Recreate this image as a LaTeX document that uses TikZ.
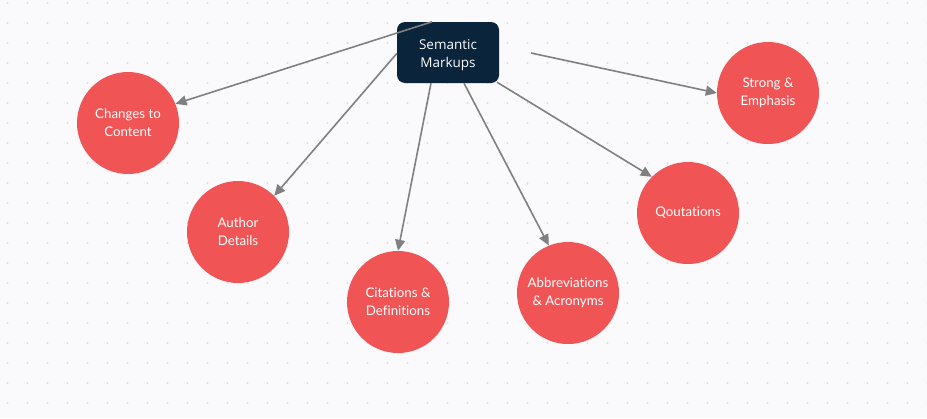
\documentclass[tikz,border=0pt]{standalone}
\usepackage{fontspec}
\setmainfont{Lato}[Ligatures=NoCommon]
\newfontfamily\boxfont{Open Sans}
\usetikzlibrary{arrows.meta}
\definecolor{bgcol}{RGB}{250,250,252}
\definecolor{dotcol}{RGB}{221,221,227}
\definecolor{navy}{RGB}{10,36,60}
\definecolor{redc}{RGB}{240,84,84}
\definecolor{linec}{RGB}{128,128,128}
\tikzset{
  topic/.style={circle, fill=redc, text=white, minimum size=102pt, inner sep=0pt,
    align=center, font=\fontsize{13.3}{18}\selectfont},
  centerbox/.style={rectangle, rounded corners=8pt, fill=navy, text=white,
    minimum width=102pt, minimum height=61pt, inner sep=0pt, align=center,
    font=\boxfont\fontsize{13.5}{18}\selectfont},
  conn/.style={draw=linec, line width=1.6pt, -{Triangle[length=11pt,width=10pt]}}
}
\begin{document}
\begin{tikzpicture}[x=1pt,y=-1pt]
\useasboundingbox (0,0) rectangle (927,418);
\fill[bgcol] (0,0) rectangle (927,418);
\foreach \i in {0,...,46}{
  \foreach \j in {0,...,20}{
    \fill[dotcol] (7.5+20*\i,3+20*\j) circle (1.1pt);
  }
}
\node[topic] (changes) at (128,123) {Changes to\\Content};
\node[topic] (author) at (238,232) {Author\\Details};
\node[topic] (cit) at (398,302) {Citations \&\\Definitions};
\node[topic] (abbr) at (568,293) {Abbreviations\\\& Acronyms};
\node[topic] (qout) at (688,213) {Qoutations};
\node[topic] (strong) at (768,93) {Strong \&\\Emphasis};
\coordinate (s6) at (531,53);
\draw[conn] (s6) -- (strong.west);
\node[centerbox] (sm) at (448,52.5) {\raisebox{-2.5pt}[\height][\depth]{\begin{tabular}{@{}c@{}}Semantic\\Markups\end{tabular}}};
\draw[conn] ([xshift=-16pt]sm.north) -- (changes.22.5);
\draw[conn] ([yshift=-1pt]sm.west) -- (author.north east);
\draw[conn] ([xshift=-17pt]sm.south) -- (cit.north);
\draw[conn] ([xshift=16pt]sm.south) -- (abbr.112.5);
\draw[conn] ([xshift=49pt,yshift=1pt]sm.south) -- (qout.north west);
\end{tikzpicture}
\end{document}
